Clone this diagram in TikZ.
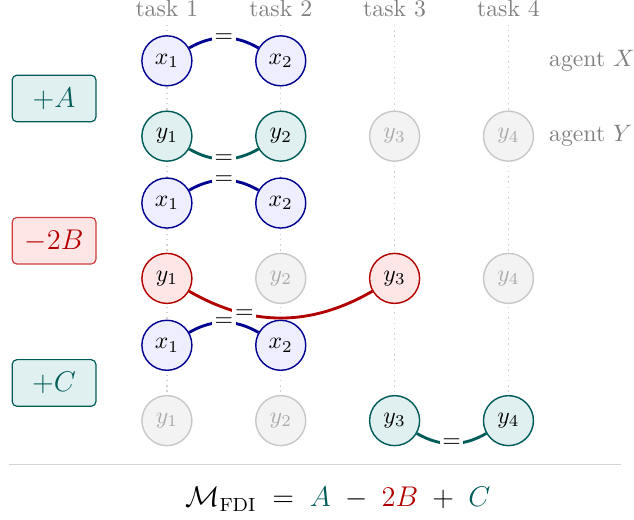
\documentclass[tikz,border=0pt]{standalone}
\usepackage{amsmath,amssymb}
\usepackage{xcolor}
\usepackage{tikz}
\usetikzlibrary{positioning,backgrounds}
\definecolor{xblue}{RGB}{0,0,145}
\definecolor{xbluefill}{RGB}{238,238,254}
\definecolor{yteal}{RGB}{0,92,88}
\definecolor{ytealfill}{RGB}{224,240,240}
\definecolor{yred}{RGB}{178,0,0}
\definecolor{yredline}{RGB}{205,60,60}
\definecolor{yredfill}{RGB}{255,230,230}
\definecolor{offgray}{RGB}{200,200,200}
\definecolor{offfill}{RGB}{243,243,243}
\definecolor{offtext}{RGB}{170,170,170}
\definecolor{labelgray}{RGB}{128,128,128}

\begin{document}
\begin{tikzpicture}[
  var/.style={circle, line width=0.6pt, minimum size=0.74cm, inner sep=0pt},
  xvar/.style={var, draw=xblue, fill=xbluefill},
  tvar/.style={var, draw=yteal, fill=ytealfill},
  rvar/.style={var, draw=yred, fill=yredfill},
  offvar/.style={var, draw=offgray, fill=offfill, text=offtext},
  tie/.style={line width=1.2pt},
  eq/.style={fill=white, text=black, inner sep=1.1pt},
  term/.style={rounded corners=2pt, minimum width=1.24cm, minimum height=0.69cm, line width=0.5pt, font=\large},
  lbl/.style={text=labelgray},
  guide/.style={black!18, line width=0.6pt, dash pattern=on 0.6pt off 1.6pt}
]
\useasboundingbox (0,0) rectangle (9.383,-7.681);

\node[lbl, anchor=base] (task1) at (2.47,-0.237) {task 1};
\node[lbl, anchor=base] (task2) at (4.155,-0.237) {task 2};
\node[lbl, anchor=base] (task3) at (5.84,-0.237) {task 3};
\node[lbl, anchor=base] (task4) at (7.525,-0.237) {task 4};

\node[lbl, anchor=west, inner sep=0pt] (agentx) at (8.12,-0.90) {agent $X$};
\node[lbl, anchor=west, inner sep=0pt] (agenty) at (8.12,-2.015) {agent $Y$};

\node[term, draw=yteal, fill=ytealfill, text=yteal] (plusA) at (0.80,-1.4575) {$+A$};
\node[term, draw=yredline, fill=yredfill, text=yred] (minusB) at (0.80,-3.5625) {$-2B$};
\node[term, draw=yteal, fill=ytealfill, text=yteal] (plusC) at (0.80,-5.6675) {$+C$};

\node[xvar] (xa1) at (2.47,-0.90) {$x_1$};
\node[xvar] (xa2) at (4.155,-0.90) {$x_2$};
\node[tvar] (ya1) at (2.47,-2.015) {$y_1$};
\node[tvar] (ya2) at (4.155,-2.015) {$y_2$};
\node[offvar] (ya3) at (5.84,-2.015) {$y_3$};
\node[offvar] (ya4) at (7.525,-2.015) {$y_4$};

\node[xvar] (xb1) at (2.47,-3.005) {$x_1$};
\node[xvar] (xb2) at (4.155,-3.005) {$x_2$};
\node[rvar] (yb1) at (2.47,-4.12) {$y_1$};
\node[offvar] (yb2) at (4.155,-4.12) {$y_2$};
\node[rvar] (yb3) at (5.84,-4.12) {$y_3$};
\node[offvar] (yb4) at (7.525,-4.12) {$y_4$};

\node[xvar] (xc1) at (2.47,-5.11) {$x_1$};
\node[xvar] (xc2) at (4.155,-5.11) {$x_2$};
\node[offvar] (yc1) at (2.47,-6.225) {$y_1$};
\node[offvar] (yc2) at (4.155,-6.225) {$y_2$};
\node[tvar] (yc3) at (5.84,-6.225) {$y_3$};
\node[tvar] (yc4) at (7.525,-6.225) {$y_4$};

\begin{pgfonlayer}{background}
\draw[guide] (task1) -- (yc1.center);
\draw[guide] (task2) -- (yc2.center);
\draw[guide] (task3) -- (yc3.center);
\draw[guide] (task4) -- (yc4.center);
\end{pgfonlayer}

\draw[tie, xblue] (xa1) to[bend left=30] node[eq] {$=$} (xa2);
\draw[tie, yteal] (ya1) to[bend right=30] node[eq] {$=$} (ya2);
\draw[tie, xblue] (xb1) to[bend left=30] node[eq] {$=$} (xb2);
\draw[tie, yred] (yb1) to[bend right=30] node[eq, pos=0.3] {$=$} (yb3);
\draw[tie, xblue] (xc1) to[bend left=30] node[eq] {$=$} (xc2);
\draw[tie, yteal] (yc3) to[bend right=30] node[eq] {$=$} (yc4);

\draw[black!17, line width=0.6pt] (0.14,-6.87) -- (9.19,-6.87);
\node[anchor=base, font=\large] (fdi) at (5.0,-7.5) {$\mathcal{M}_{\mathrm{FDI}} \;=\; {\color{yteal}A} \;-\; {\color{yred}2B} \;+\; {\color{yteal}C}$};
\end{tikzpicture}
\end{document}
